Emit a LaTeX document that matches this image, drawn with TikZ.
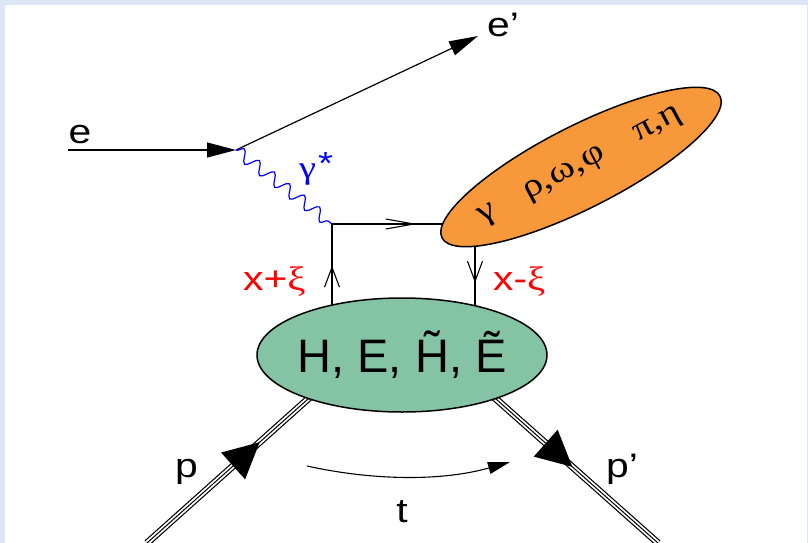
\documentclass[tikz,border=0pt]{standalone}
\usepackage{fontspec}
\setmainfont[FakeStretch=1.2]{Liberation Sans}
\newfontfamily\grk[FakeStretch=1.2]{Liberation Serif}
\newfontfamily\gpdfont{Liberation Sans}
\usetikzlibrary{arrows.meta,shapes.geometric,decorations.pathmorphing,decorations.markings}
\definecolor{frame}{HTML}{DCE6F4}
\definecolor{gpd}{HTML}{84C4A4}
\definecolor{meson}{HTML}{F7983A}
\tikzset{
  lbl/.style={font=\fontsize{34}{36}\selectfont,inner sep=0pt},
  redlbl/.style={lbl,text=red},
  lepton/.style={draw=black,line width=1.2pt,-{Triangle[length=29pt,width=15pt]}},
  photon/.style={draw=blue,line width=1.2pt,decorate,decoration={snake,segment length=19pt,amplitude=6pt}},
  quark/.style={draw=black,line width=1.1pt},
  barb/.style={postaction={line width=1.1pt,decorate,decoration={markings,mark=at position #1 with {\arrow{Straight Barb[length=20pt,width=15pt,line width=1.1pt]}}}}},
  hbarb/.style={postaction={line width=1.1pt,decorate,decoration={markings,mark=at position #1 with {\arrow{Straight Barb[length=28pt,width=10pt,line width=1.1pt]}}}}},
  proton/.style={draw=black,line width=7pt,
    postaction={draw=white,line width=4.6pt},
    postaction={draw=black,line width=1pt},
    postaction={line width=1pt,decorate,decoration={markings,mark=at position #1 with {\arrow{Triangle[length=26pt,width=26pt]}}}}},
  blob/.style={ellipse,draw=black,line width=1.5pt,inner sep=0pt},
  tarrow/.style={draw=black,line width=1.1pt,-{Triangle[length=22pt,width=12pt]}},
}

\begin{document}
\begin{tikzpicture}[x=1pt,y=-1pt]
\useasboundingbox (0,0) rectangle (808,543);
\fill[frame] (0,0) rectangle (808,543);
\fill[white] (5,5) rectangle (806.5,543);

\coordinate (ein) at (68,150);
\coordinate (vtx) at (236,150);
\coordinate (eout) at (478,36);
\coordinate (qtop) at (332,224);
\coordinate (qin) at (332,309);
\coordinate (qmes) at (450,224);
\coordinate (qout) at (475,240);
\coordinate (qend) at (475,309);
\coordinate (pin) at (147,543);
\coordinate (pgpd) at (318,390);
\coordinate (ppgpd) at (487,391);
\coordinate (pout) at (658,543);
\coordinate (tL) at (307,466);
\coordinate (tR) at (510,462);

\draw[lepton] (ein) -- (vtx);
\draw[lepton] (vtx) -- (eout);
\draw[photon] (vtx) -- (qtop);
\draw[quark,barb=0.51] (qin) -- (qtop);
\draw[quark,hbarb=0.72] (qtop) -- (qmes);
\draw[quark,barb=0.62] (qout) -- (qend);
\draw[proton=0.63] (pin) -- (pgpd);
\draw[proton=0.47] (ppgpd) -- (pout);
\draw[tarrow] (tL) .. controls (375,481) and (443,481) .. (tR);

\node[blob,fill=gpd,minimum width=290pt,minimum height=114pt] (gpdblob) at (402,355) {};
\node[font=\fontsize{47}{50}\gpdfont,inner sep=0pt] (gpdtext) at (gpdblob.center) {H, E, \~{H}, \~{E}};
\node[blob,fill=meson,minimum width=312pt,minimum height=82pt,rotate=27] (mesonblob) at (581,167) {};
\node[font=\fontsize{33}{35}\grk,rotate=28,inner sep=0pt] (mesontext) at (mesonblob.center) {γ\hspace{34pt}ρ,ω,φ\hspace{36pt}π,η};

\node[lbl,anchor=base] (elbl) at (80,143) {e};
\node[lbl,anchor=base west] (eplbl) at (487,37) {e'};
\node[lbl,anchor=base west] (plbl) at (175,477) {p};
\node[lbl,anchor=base west] (pplbl) at (606,477) {p'};
\node[lbl,anchor=base] (tlbl) at (402,522) {t};
\node[redlbl,anchor=base west] (xplbl) at (243,290) {x+{\grk ξ}};
\node[redlbl,anchor=base west] (xmlbl) at (493,290) {x-{\grk ξ}};
\node[lbl,text=blue,anchor=base west,font=\fontsize{32}{34}\selectfont] (gammalbl) at (299,178) {{\grk γ}\hspace{2pt}\raisebox{0.1em}{*}};
\end{tikzpicture}
\end{document}
